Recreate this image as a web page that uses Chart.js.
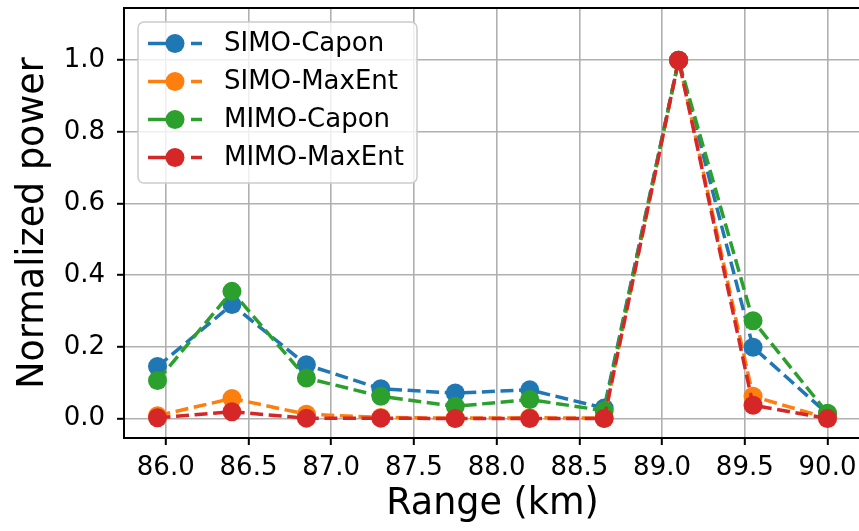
<!DOCTYPE html>
<html>
<head>
<meta charset="utf-8">
<script src="https://cdn.jsdelivr.net/npm/chart.js@4"></script>
<style>
  html, body { margin: 0; padding: 0; background: #fff; overflow: hidden; }
  #wrap { width: 861px; height: 531px; }
</style>
</head>
<body>
<div id="wrap"><canvas id="rangeChart" width="861" height="531"></canvas></div>
<script>
// values
const rangeKm = [85.95, 86.40, 86.85, 87.30, 87.75, 88.20, 88.65, 89.10, 89.55, 90.00];
const simoCapon  = [0.145, 0.318, 0.150, 0.083, 0.071, 0.080, 0.029, 1.0, 0.199, 0.013];
const simoMaxEnt = [0.008, 0.056, 0.012, 0.003, 0.001, 0.002, 0.001, 1.0, 0.062, 0.001];
const mimoCapon  = [0.106, 0.355, 0.113, 0.062, 0.034, 0.053, 0.022, 1.0, 0.273, 0.015];
const mimoMaxEnt = [0.002, 0.019, 0.001, 0.001, 0.000, 0.000, 0.000, 1.0, 0.037, 0.000];

const seriesNames = ['SIMO-Capon', 'SIMO-MaxEnt', 'MIMO-Capon', 'MIMO-MaxEnt'];
const seriesColors = ['#1f77b4', '#ff7f0e', '#2ca02c', '#d62728'];
const xTicks = [86.0, 86.5, 87.0, 87.5, 88.0, 88.5, 89.0, 89.5, 90.0];
const yTicks = [0.0, 0.2, 0.4, 0.6, 0.8, 1.0];

const FONT = 'DejaVu Sans';

function toPoints(values) {
    return rangeKm.map((x, i) => ({ x: x, y: values[i] }));
}

const datasets = [simoCapon, simoMaxEnt, mimoCapon, mimoMaxEnt].map((vals, i) => ({
    label: seriesNames[i],
    data: toPoints(vals),
    borderColor: seriesColors[i],
    backgroundColor: seriesColors[i],
    borderWidth: 3.5,
    borderDash: [13, 5.6],
    borderCapStyle: 'butt',
    pointRadius: 9.5,
    pointHoverRadius: 9.5,
    pointBorderWidth: 0,
    pointStyle: 'circle',
    tension: 0,
    order: 4 - i   // later series on top, like matplotlib
}));

// top/right spines
const framePlugin = {
    id: 'frame',
    afterDatasetsDraw(chart) {
        const { ctx, chartArea: a } = chart;
        ctx.save();
        ctx.strokeStyle = '#000';
        ctx.lineWidth = 2;
        ctx.strokeRect(a.left, a.top, a.right - a.left, a.bottom - a.top);
        ctx.restore();
    }
};

// matplotlib-like legend box in the upper left
const legendPlugin = {
    id: 'mplLegend',
    afterDraw(chart) {
        const ctx = chart.ctx;
        const box = { x: 138, y: 22, w: 279, h: 161, r: 6 };
        ctx.save();
        ctx.beginPath();
        ctx.roundRect(box.x, box.y, box.w, box.h, box.r);
        ctx.fillStyle = 'rgba(255,255,255,0.8)';
        ctx.fill();
        ctx.strokeStyle = '#cccccc';
        ctx.lineWidth = 1.5;
        ctx.stroke();

        ctx.font = `26px "${FONT}"`;
        ctx.textBaseline = 'middle';
        ctx.textAlign = 'left';
        chart.data.datasets.forEach((ds, i) => {
            const cy = 43.5 + i * 38;
            ctx.strokeStyle = ds.borderColor;
            ctx.lineWidth = ds.borderWidth;
            ctx.beginPath();
            ctx.moveTo(148, cy);
            ctx.lineTo(166, cy);
            ctx.moveTo(191, cy);
            ctx.lineTo(202, cy);
            ctx.stroke();
            ctx.beginPath();
            ctx.arc(175, cy, 9.5, 0, Math.PI * 2);
            ctx.fillStyle = ds.backgroundColor;
            ctx.fill();
            ctx.fillStyle = '#000';
            ctx.fillText(ds.label, 224, cy + 1);
        });
        ctx.restore();
    }
};

const ctx = document.getElementById('rangeChart').getContext('2d');
new Chart(ctx, {
    type: 'line',
    data: { datasets: datasets },
    options: {
        responsive: false,
        animation: false,
        devicePixelRatio: 1,
        layout: { autoPadding: false, padding: { top: 8, left: 0, right: 0, bottom: 0 } },
        plugins: {
            legend: { display: false },
            tooltip: { enabled: false }
        },
        scales: {
            x: {
                type: 'linear',
                min: 85.7475,
                max: 90.2025,
                afterBuildTicks: scale => { scale.ticks = xTicks.map(v => ({ value: v })); },
                afterFit: scale => {
                    scale.height = 93;
                    scale.paddingLeft = 0;
                    scale.paddingRight = 0;
                },
                ticks: {
                    autoSkip: false,
                    maxRotation: 0,
                    padding: 8,
                    color: '#000',
                    font: { family: FONT, size: 26 },
                    callback: v => Number(v).toFixed(1)
                },
                grid: {
                    color: '#b0b0b0',
                    lineWidth: 1.6,
                    tickColor: '#000',
                    tickLength: 7,
                    tickWidth: 2
                },
                border: { color: '#000', width: 2 },
                title: {
                    display: true,
                    text: 'Range (km)',
                    color: '#000',
                    font: { family: FONT, size: 36.5 },
                    padding: { top: 0, bottom: 5 }
                }
            },
            y: {
                min: -0.0544,
                max: 1.146,
                afterBuildTicks: scale => { scale.ticks = yTicks.map(v => ({ value: v })); },
                afterFit: scale => {
                    scale.width = 124;
                    scale.paddingTop = 0;
                    scale.paddingBottom = 0;
                },
                ticks: {
                    padding: 12,
                    color: '#000',
                    font: { family: FONT, size: 26 },
                    callback: v => Number(v).toFixed(1)
                },
                grid: {
                    color: '#b0b0b0',
                    lineWidth: 1.6,
                    tickColor: '#000',
                    tickLength: 7,
                    tickWidth: 2
                },
                border: { color: '#000', width: 2 },
                title: {
                    display: true,
                    text: 'Normalized power',
                    color: '#000',
                    font: { family: FONT, size: 36.5 },
                    padding: { top: 12, bottom: 0 }
                }
            }
        }
    },
    plugins: [framePlugin, legendPlugin]
});
</script>
</body>
</html>
